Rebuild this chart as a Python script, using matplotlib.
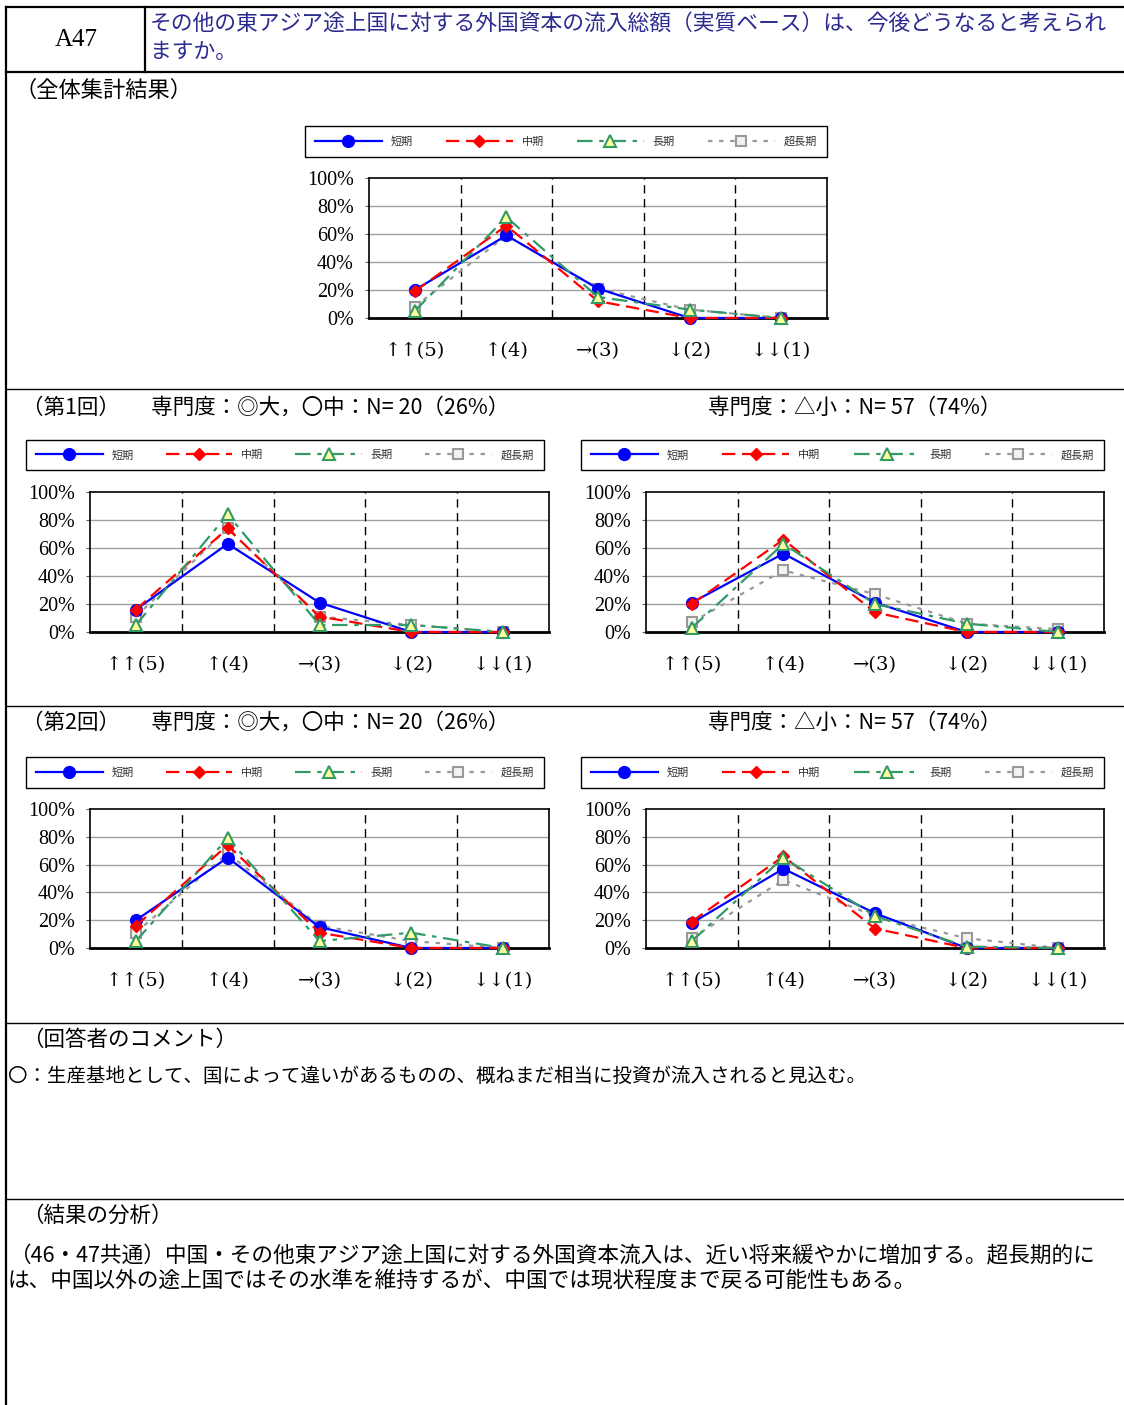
import matplotlib
matplotlib.use("Agg")
import matplotlib.pyplot as plt

plt.rcParams['font.family'] = ['Noto Sans CJK JP', 'DejaVu Sans']

W, H = 1124, 1405
SERIF = ['Liberation Serif', 'DejaVu Serif', 'Noto Sans CJK JP']
ARROW_FONT = ['DejaVu Serif', 'Noto Sans CJK JP']

CATEGORIES = ['↑↑(5)', '↑(4)', '→(3)', '↓(2)', '↓↓(1)']
SERIES = ['短期', '中期', '長期', '超長期']
Y_TICKS = [0, 20, 40, 60, 80, 100]

# overall
total_short = [20, 59, 21, 0, 0]
total_mid = [19, 66, 12, 0, 0]
total_long = [5, 72, 15, 6, 0]
total_vlong = [8, 59, 21, 6, 0]

# round 1, expertise high/mid
r1_hi_short = [16, 63, 21, 0, 0]
r1_hi_mid = [16, 74, 11, 0, 0]
r1_hi_long = [5, 84, 5, 5, 0]
r1_hi_vlong = [11, 74, 11, 5, 0]

# round 1, expertise low
r1_lo_short = [21, 56, 21, 0, 0]
r1_lo_mid = [20, 66, 14, 0, 0]
r1_lo_long = [3, 63, 20, 6, 0]
r1_lo_vlong = [7, 44, 27, 6, 2]

# round 2, expertise high/mid
r2_hi_short = [20, 65, 15, 0, 0]
r2_hi_mid = [16, 74, 11, 0, 0]
r2_hi_long = [5, 79, 5, 11, 0]
r2_hi_vlong = [11, 68, 16, 5, 0]

# round 2, expertise low
r2_lo_short = [18, 57, 25, 0, 0]
r2_lo_mid = [19, 66, 14, 0, 0]
r2_lo_long = [5, 65, 23, 1, 0]
r2_lo_vlong = [7, 49, 23, 7, 0]

STYLES = [
    dict(color='#0000ff', ls='-', marker='o', ms=8.5, mfc='#0000ff', mec='#0000ff'),
    dict(color='#ff0000', ls=(0, (6, 3)), marker='D', ms=6.5, mfc='#ff0000', mec='#ff0000'),
    dict(color='#339966', ls=(0, (7, 3, 2, 3)), marker='^', ms=9, mfc='#ffff99', mec='#339966', mew=1.5),
    dict(color='#999999', ls=(0, (2, 3)), marker='s', ms=7.5, mfc='#f2f2f2', mec='#999999', mew=1.5),
]
# drawing order: gray at the bottom, then blue, red, green
ZORDER = [4, 5, 6, 3]


def fig_rect(left, top, right, bottom):
    return [left / W, 1 - bottom / H, (right - left) / W, (bottom - top) / H]


def draw_panel(fig, plot_box, legend_box, series):
    ax = fig.add_axes(fig_rect(*plot_box))
    x = range(len(CATEGORIES))
    handles = []
    for vals, st, z in zip(series, STYLES, ZORDER):
        ln, = ax.plot(x, vals, lw=1.6, clip_on=False, zorder=z, **st)
        handles.append(ln)
    ax.set_xlim(-0.5, len(CATEGORIES) - 0.5)
    ax.set_ylim(0, 100)
    for yv in Y_TICKS[1:-1]:
        ax.axhline(yv, color='#a0a0a0', lw=1, zorder=1)
    for xv in [0.5, 1.5, 2.5, 3.5]:
        ax.axvline(xv, color='black', lw=1, ls=(0, (6, 4)), zorder=1)
    ax.set_yticks(Y_TICKS)
    ax.set_yticklabels([f'{v}%' for v in Y_TICKS], family=SERIF, fontsize=14.5)
    ax.set_xticks(list(x))
    ax.set_xticklabels(CATEGORIES, family=ARROW_FONT, fontsize=14)
    ax.tick_params(axis='y', length=3, pad=8, color='#606060')
    ax.tick_params(axis='x', length=0, pad=17)
    for name, sp in ax.spines.items():
        sp.set_color('black')
        sp.set_linewidth(2 if name == 'bottom' else 1.2)
    l, t, r, b = legend_box
    leg = fig.legend(handles, SERIES, loc='center',
                     bbox_to_anchor=fig_rect(l, t, r, b),
                     mode='expand', ncol=4, fontsize=8, handlelength=6,
                     borderpad=0.9, borderaxespad=0, fancybox=False,
                     edgecolor='black', framealpha=1)
    leg.get_frame().set_linewidth(1.0)
    for txt in leg.get_texts():
        txt.set_color('#333333')
    return ax


fig = plt.figure(figsize=(W / 100, H / 100), dpi=100)

# background layer for the table frame and text, in pixel coordinates
bg = fig.add_axes([0, 0, 1, 1])
bg.set_xlim(0, W)
bg.set_ylim(H, 0)
bg.axis('off')

bg.plot([6, W], [7, 7], color='black', lw=1.6)
bg.plot([6, 6], [7, H], color='black', lw=1.6)
bg.plot([145, 145], [7, 72], color='black', lw=1.6)
bg.plot([6, W], [72, 72], color='black', lw=1.6)
for yy in [389, 706, 1023, 1199]:
    bg.plot([6, W], [yy, yy], color='black', lw=1.0)

bg.text(76, 40, 'A47', ha='center', va='center', fontsize=18, family=SERIF)
title_color = '#2b2b8f'
bg.text(150, 25, 'その他の東アジア途上国に対する外国資本の流入総額（実質ベース）は、今後どうなると考えられ',
        ha='left', va='center', fontsize=15.7, color=title_color)
bg.text(150, 52, 'ますか。', ha='left', va='center', fontsize=15.7, color=title_color)

bg.text(14, 90, '（全体集計結果）', ha='left', va='center', fontsize=16)
bg.text(22, 408, '（第1回）　  専門度：◎大，〇中：N= 20（26%）', ha='left', va='center', fontsize=15.5)
bg.text(708, 408, '専門度：△小：N= 57（74%）', ha='left', va='center', fontsize=15.5)
bg.text(22, 723, '（第2回）　  専門度：◎大，〇中：N= 20（26%）', ha='left', va='center', fontsize=15.5)
bg.text(708, 723, '専門度：△小：N= 57（74%）', ha='left', va='center', fontsize=15.5)
bg.text(22, 1040, '（回答者のコメント）', ha='left', va='center', fontsize=15.5)
bg.text(8, 1076, '〇：生産基地として、国によって違いがあるものの、概ねまだ相当に投資が流入されると見込む。',
        ha='left', va='center', fontsize=14)
bg.text(22, 1216, '（結果の分析）', ha='left', va='center', fontsize=15.5)
bg.text(10, 1256, '（46・47共通）中国・その他東アジア途上国に対する外国資本流入は、近い将来緩やかに増加する。超長期的に',
        ha='left', va='center', fontsize=15.6)
bg.text(8, 1281, 'は、中国以外の途上国ではその水準を維持するが、中国では現状程度まで戻る可能性もある。',
        ha='left', va='center', fontsize=15.6)

PANELS = [
    ((369, 178, 827, 318), (305, 125, 827, 158),
     [total_short, total_mid, total_long, total_vlong]),
    ((90, 492, 549, 632), (26, 439, 544, 471),
     [r1_hi_short, r1_hi_mid, r1_hi_long, r1_hi_vlong]),
    ((646, 492, 1104, 632), (581, 439, 1104, 471),
     [r1_lo_short, r1_lo_mid, r1_lo_long, r1_lo_vlong]),
    ((90, 809, 549, 948), (26, 756, 544, 789),
     [r2_hi_short, r2_hi_mid, r2_hi_long, r2_hi_vlong]),
    ((646, 809, 1104, 948), (581, 756, 1104, 789),
     [r2_lo_short, r2_lo_mid, r2_lo_long, r2_lo_vlong]),
]

for plot_box, legend_box, series in PANELS:
    draw_panel(fig, plot_box, legend_box, series)

fig.savefig('out.png', dpi=100)
